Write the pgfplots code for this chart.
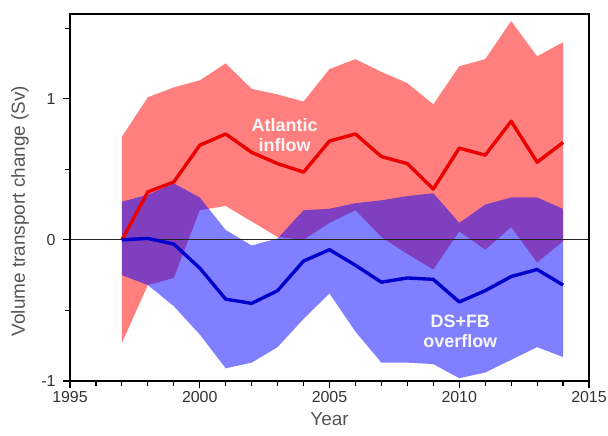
\documentclass[border=0pt]{standalone}
\usepackage{pgfplots}
\pgfplotsset{compat=1.18}
\usepackage{pgfplotstable}
\usepgfplotslibrary{fillbetween}
\usepackage{fontspec}
\setmainfont{Liberation Sans}
\definecolor{tickgray}{HTML}{333333}
\definecolor{labgray}{HTML}{555555}
\definecolor{redline}{RGB}{235,0,0}
\definecolor{blueline}{RGB}{0,0,205}

\pgfplotstableread{
year rm ru rl
1997 0.00 0.73 -0.73
1998 0.34 1.01 -0.32
1999 0.41 1.08 -0.27
2000 0.67 1.13 0.21
2001 0.75 1.25 0.24
2002 0.62 1.07 0.13
2003 0.54 1.03 0.02
2004 0.48 0.98 0.00
2005 0.70 1.21 0.12
2006 0.75 1.28 0.21
2007 0.59 1.19 0.02
2008 0.54 1.11 -0.10
2009 0.36 0.96 -0.21
2010 0.65 1.23 0.06
2011 0.60 1.28 -0.07
2012 0.84 1.55 0.09
2013 0.55 1.30 -0.16
2014 0.69 1.40 -0.01
}\atl

\pgfplotstableread{
year bm bu bl
1997 0.00 0.27 -0.25
1998 0.01 0.32 -0.32
1999 -0.03 0.40 -0.47
2000 -0.20 0.30 -0.67
2001 -0.42 0.07 -0.91
2002 -0.45 -0.04 -0.87
2003 -0.36 0.01 -0.76
2004 -0.15 0.21 -0.56
2005 -0.07 0.22 -0.38
2006 -0.18 0.26 -0.65
2007 -0.30 0.28 -0.87
2008 -0.27 0.31 -0.87
2009 -0.28 0.33 -0.88
2010 -0.44 0.12 -0.98
2011 -0.36 0.25 -0.94
2012 -0.26 0.30 -0.85
2013 -0.21 0.30 -0.76
2014 -0.32 0.22 -0.83
}\ovf

\begin{document}
\begin{tikzpicture}
\begin{axis}[
  name=ax,
  scale only axis,
  width=519bp, height=367bp,
  xmin=1995, xmax=2015, ymin=-1, ymax=1.6,
  xtick={1995,2000,2005,2010,2015},
  minor xtick={1996,1997,1998,1999,2001,2002,2003,2004,2006,2007,2008,2009,2011,2012,2013,2014},
  ytick={-1,0,1},
  minor ytick={-0.5,0.5,1.5},
  xtick pos=bottom, ytick pos=left,
  tick align=outside,
  major tick length=7bp, minor tick length=5bp,
  every tick/.style={black, line width=1.2pt},
  axis line style={black, line width=1.5pt},
  /pgf/number format/assume math mode=true,
  xticklabel style={font=\fontsize{16}{18}\selectfont, text=tickgray},
  yticklabel style={font=\fontsize{16}{18}\selectfont, text=tickgray, xshift=-4bp},
  xticklabel={\pgfmathprintnumber[1000 sep={},assume math mode=true]{\tick}},
  xlabel={Year},
  ylabel={Volume transport change (Sv)},
  xlabel style={font=\fontsize{19}{21}\selectfont, text=labgray, at={(axis description cs:0.5,-0.104)}, anchor=center},
  ylabel style={font=\fontsize{19}{21}\selectfont, text=labgray, at={(axis description cs:-0.0963,0.463)}, anchor=center, rotate=0},
  clip=true,
]
\addplot[name path=ru, draw=none, forget plot] table[x=year, y=ru] {\atl};
\addplot[name path=rl, draw=none, forget plot] table[x=year, y=rl] {\atl};
\addplot[fill=red, fill opacity=0.5, draw=none] fill between[of=ru and rl];
\addplot[name path=bu, draw=none, forget plot] table[x=year, y=bu] {\ovf};
\addplot[name path=bl, draw=none, forget plot] table[x=year, y=bl] {\ovf};
\addplot[fill=blue, fill opacity=0.5, draw=none] fill between[of=bu and bl];
\addplot[black!85, line width=0.7pt] coordinates {(1995,0) (2015,0)};
\addplot[redline, line width=3.4pt, line join=round] table[x=year, y=rm] {\atl};
\addplot[blueline, line width=3.4pt, line join=round] table[x=year, y=bm] {\ovf};
\node[text=white!94!gray, font=\bfseries\fontsize{18}{20}\selectfont, align=center] at (axis cs:2003.27,0.745) {Atlantic\\inflow};
\node[text=white!94!gray, font=\bfseries\fontsize{18}{20}\selectfont, align=center] at (axis cs:2010.04,-0.645) {DS+FB\\overflow};
\draw[black, line width=1.5pt] (rel axis cs:0,0) rectangle (rel axis cs:1,1);
\end{axis}
\pgfresetboundingbox
\path (-70bp,-55bp) rectangle (538bp,381bp);
\end{tikzpicture}
\end{document}
